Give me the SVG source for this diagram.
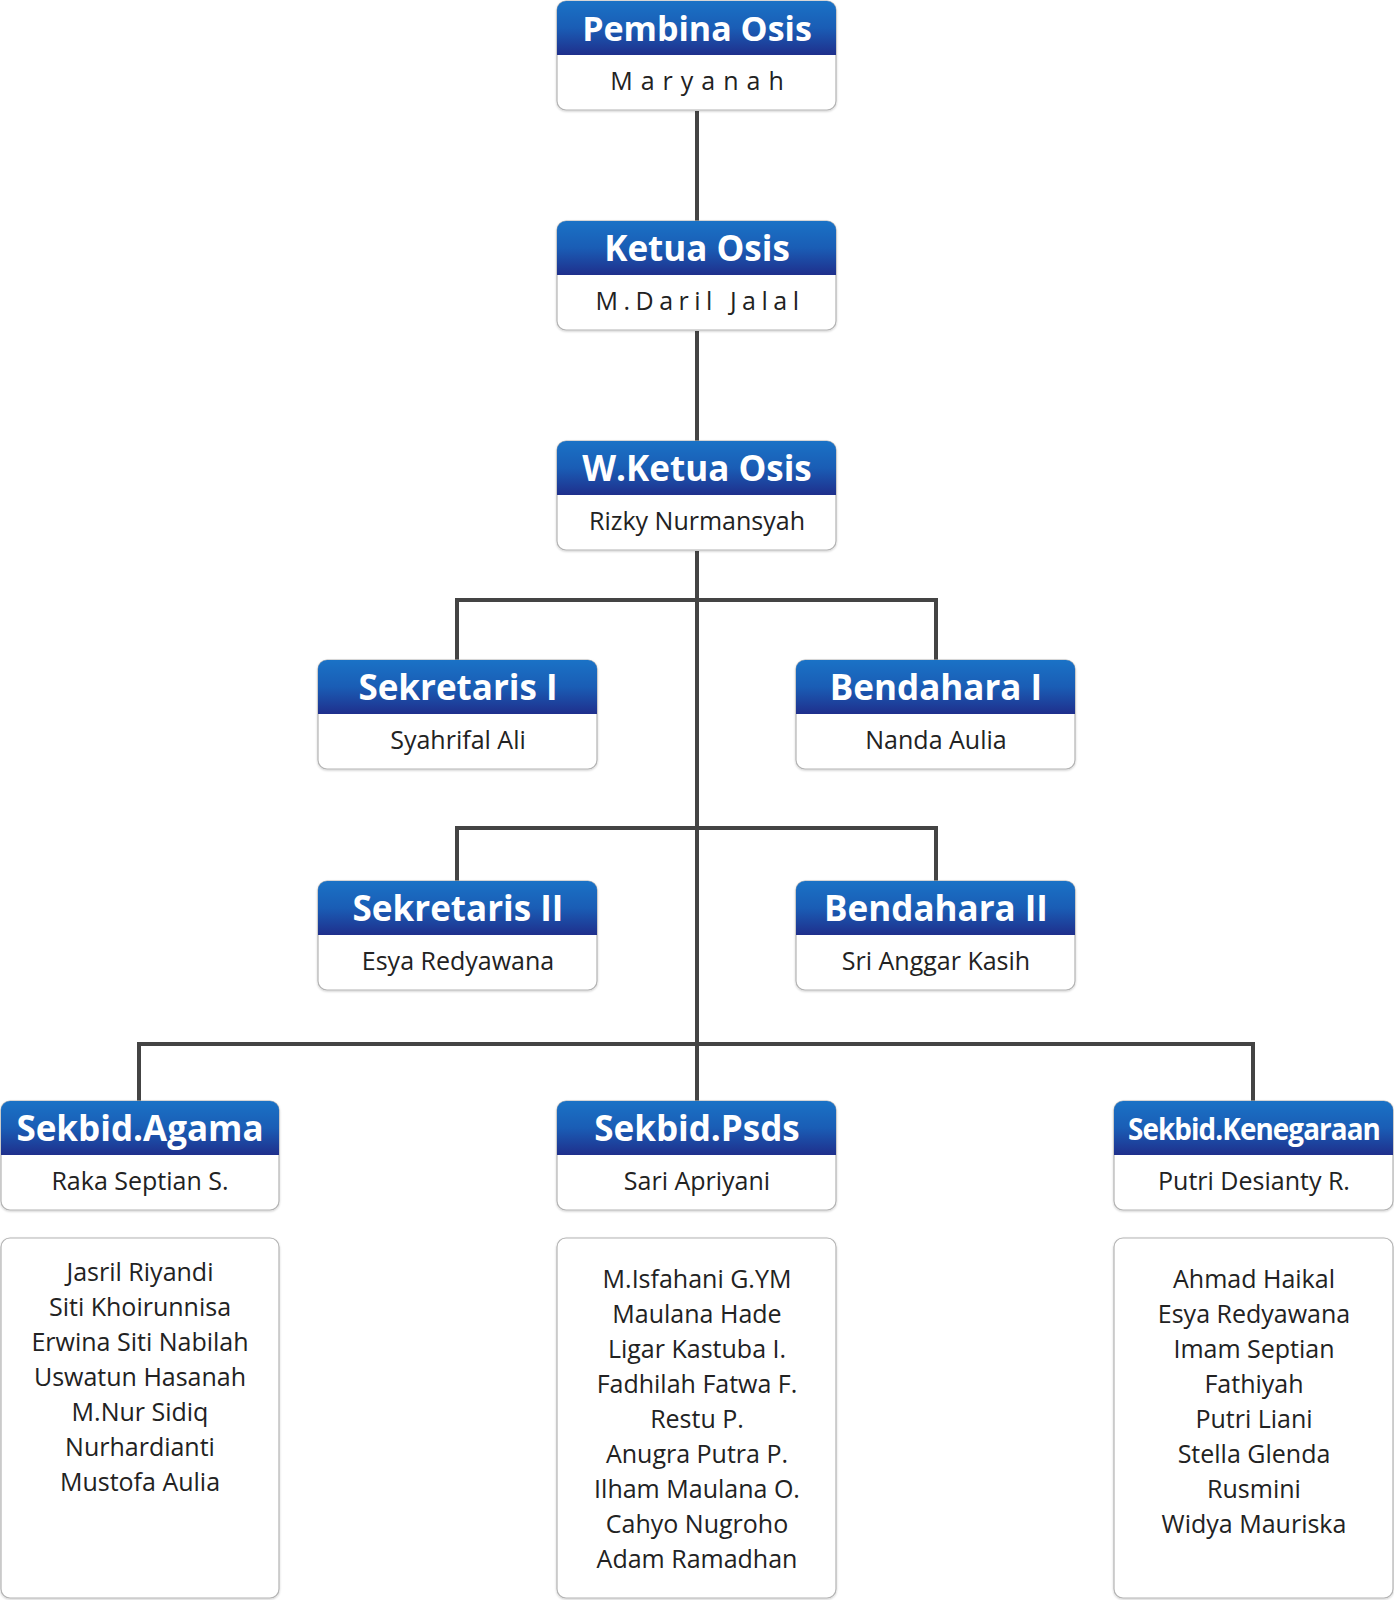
<svg xmlns="http://www.w3.org/2000/svg" width="1394" height="1600" viewBox="0 0 1394 1600">
<defs>
<linearGradient id="hg" x1="0" y1="0" x2="0" y2="1">
<stop offset="0" stop-color="#1a72c6"/>
<stop offset="0.5" stop-color="#1a5db5"/>
<stop offset="1" stop-color="#1f2f8c"/>
</linearGradient>
<filter id="sh" x="-5%" y="-5%" width="110%" height="115%">
<feDropShadow dx="0" dy="1" stdDeviation="1" flood-color="#000" flood-opacity="0.2"/>
</filter>
</defs>
<style>
.box{fill:#fff;stroke:#b4b4b4;stroke-width:1.2}
.hd{fill:url(#hg)}
.ht{font-family:"Open Sans","Noto Sans",sans-serif;font-weight:700;font-size:35px;fill:#fff;text-anchor:middle}
.st{font-family:"Open Sans","Noto Sans",sans-serif;font-size:25px;fill:#222;text-anchor:middle}
.mt{font-family:"Open Sans","Noto Sans",sans-serif;font-size:25px;fill:#222;text-anchor:middle}
.ln{stroke:#444;stroke-width:4;fill:none}
</style>
<rect width="1394" height="1600" fill="#fff"/>
<g id="connectors">
<path class="ln" d="M697 111V221M697 331V441M697 551V1101"/>
<path class="ln" d="M457 660V600H936V660"/>
<path class="ln" d="M457 881V828H936V881"/>
<path class="ln" d="M139 1101V1044H1253V1101"/>
</g>
<g id="pembina">
<rect class="box" x="557" y="1" width="279" height="109" rx="9" filter="url(#sh)"/>
<path class="hd" d="M557 55V10a9 9 0 0 1 9-9h261a9 9 0 0 1 9 9v45z"/>
<text class="ht" x="697" y="41" style="font-size:34px">Pembina Osis</text>
<text class="st" x="701" y="90" style="letter-spacing:8px">Maryanah</text>
</g>
<g id="ketua">
<rect class="box" x="557" y="221" width="279" height="109" rx="9" filter="url(#sh)"/>
<path class="hd" d="M557 275V230a9 9 0 0 1 9-9h261a9 9 0 0 1 9 9v45z"/>
<text class="ht" x="697" y="261">Ketua Osis</text>
<text class="st" x="700" y="310" style="letter-spacing:5.5px">M.Daril Jalal</text>
</g>
<g id="wketua">
<rect class="box" x="557" y="441" width="279" height="109" rx="9" filter="url(#sh)"/>
<path class="hd" d="M557 495V450a9 9 0 0 1 9-9h261a9 9 0 0 1 9 9v45z"/>
<text class="ht" x="697" y="481">W.Ketua Osis</text>
<text class="st" x="697" y="530">Rizky Nurmansyah</text>
</g>
<g id="sekretaris1">
<rect class="box" x="318" y="660" width="279" height="109" rx="9" filter="url(#sh)"/>
<path class="hd" d="M318 714V669a9 9 0 0 1 9-9h261a9 9 0 0 1 9 9v45z"/>
<text class="ht" x="458" y="700">Sekretaris I</text>
<text class="st" x="458" y="749">Syahrifal Ali</text>
</g>
<g id="bendahara1">
<rect class="box" x="796" y="660" width="279" height="109" rx="9" filter="url(#sh)"/>
<path class="hd" d="M796 714V669a9 9 0 0 1 9-9h261a9 9 0 0 1 9 9v45z"/>
<text class="ht" x="936" y="700">Bendahara I</text>
<text class="st" x="936" y="749">Nanda Aulia</text>
</g>
<g id="sekretaris2">
<rect class="box" x="318" y="881" width="279" height="109" rx="9" filter="url(#sh)"/>
<path class="hd" d="M318 935V890a9 9 0 0 1 9-9h261a9 9 0 0 1 9 9v45z"/>
<text class="ht" x="458" y="921">Sekretaris II</text>
<text class="st" x="458" y="970">Esya Redyawana</text>
</g>
<g id="bendahara2">
<rect class="box" x="796" y="881" width="279" height="109" rx="9" filter="url(#sh)"/>
<path class="hd" d="M796 935V890a9 9 0 0 1 9-9h261a9 9 0 0 1 9 9v45z"/>
<text class="ht" x="936" y="921">Bendahara II</text>
<text class="st" x="936" y="970">Sri Anggar Kasih</text>
</g>
<g id="agama">
<rect class="box" x="1" y="1101" width="278" height="109" rx="9" filter="url(#sh)"/>
<path class="hd" d="M1 1155V1110a9 9 0 0 1 9-9h260a9 9 0 0 1 9 9v45z"/>
<text class="ht" x="140" y="1141">Sekbid.Agama</text>
<text class="st" x="140" y="1190">Raka Septian S.</text>
</g>
<g id="psds">
<rect class="box" x="557" y="1101" width="279" height="109" rx="9" filter="url(#sh)"/>
<path class="hd" d="M557 1155V1110a9 9 0 0 1 9-9h261a9 9 0 0 1 9 9v45z"/>
<text class="ht" x="697" y="1141">Sekbid.Psds</text>
<text class="st" x="697" y="1190">Sari Apriyani</text>
</g>
<g id="kenegaraan">
<rect class="box" x="1114" y="1101" width="279" height="109" rx="9" filter="url(#sh)"/>
<path class="hd" d="M1114 1155V1110a9 9 0 0 1 9-9h261a9 9 0 0 1 9 9v45z"/>
<text class="ht" x="1254" y="1140" style="font-size:30px;letter-spacing:-1px" textLength="252" lengthAdjust="spacingAndGlyphs">Sekbid.Kenegaraan</text>
<text class="st" x="1254" y="1190">Putri Desianty R.</text>
</g>
<g id="agama-members">
<rect class="box" x="1" y="1238" width="278" height="360" rx="9" filter="url(#sh)"/>
<text class="mt" x="140" y="1281">Jasril Riyandi</text>
<text class="mt" x="140" y="1316">Siti Khoirunnisa</text>
<text class="mt" x="140" y="1351">Erwina Siti Nabilah</text>
<text class="mt" x="140" y="1386">Uswatun Hasanah</text>
<text class="mt" x="140" y="1421">M.Nur Sidiq</text>
<text class="mt" x="140" y="1456">Nurhardianti</text>
<text class="mt" x="140" y="1491">Mustofa Aulia</text>
</g>
<g id="psds-members">
<rect class="box" x="557" y="1238" width="279" height="360" rx="9" filter="url(#sh)"/>
<text class="mt" x="697" y="1288">M.Isfahani G.YM</text>
<text class="mt" x="697" y="1323">Maulana Hade</text>
<text class="mt" x="697" y="1358">Ligar Kastuba I.</text>
<text class="mt" x="697" y="1393">Fadhilah Fatwa F.</text>
<text class="mt" x="697" y="1428">Restu P.</text>
<text class="mt" x="697" y="1463">Anugra Putra P.</text>
<text class="mt" x="697" y="1498">Ilham Maulana O.</text>
<text class="mt" x="697" y="1533">Cahyo Nugroho</text>
<text class="mt" x="697" y="1568">Adam Ramadhan</text>
</g>
<g id="kenegaraan-members">
<rect class="box" x="1114" y="1238" width="279" height="360" rx="9" filter="url(#sh)"/>
<text class="mt" x="1254" y="1288">Ahmad Haikal</text>
<text class="mt" x="1254" y="1323">Esya Redyawana</text>
<text class="mt" x="1254" y="1358">Imam Septian</text>
<text class="mt" x="1254" y="1393">Fathiyah</text>
<text class="mt" x="1254" y="1428">Putri Liani</text>
<text class="mt" x="1254" y="1463">Stella Glenda</text>
<text class="mt" x="1254" y="1498">Rusmini</text>
<text class="mt" x="1254" y="1533">Widya Mauriska</text>
</g>
</svg>
